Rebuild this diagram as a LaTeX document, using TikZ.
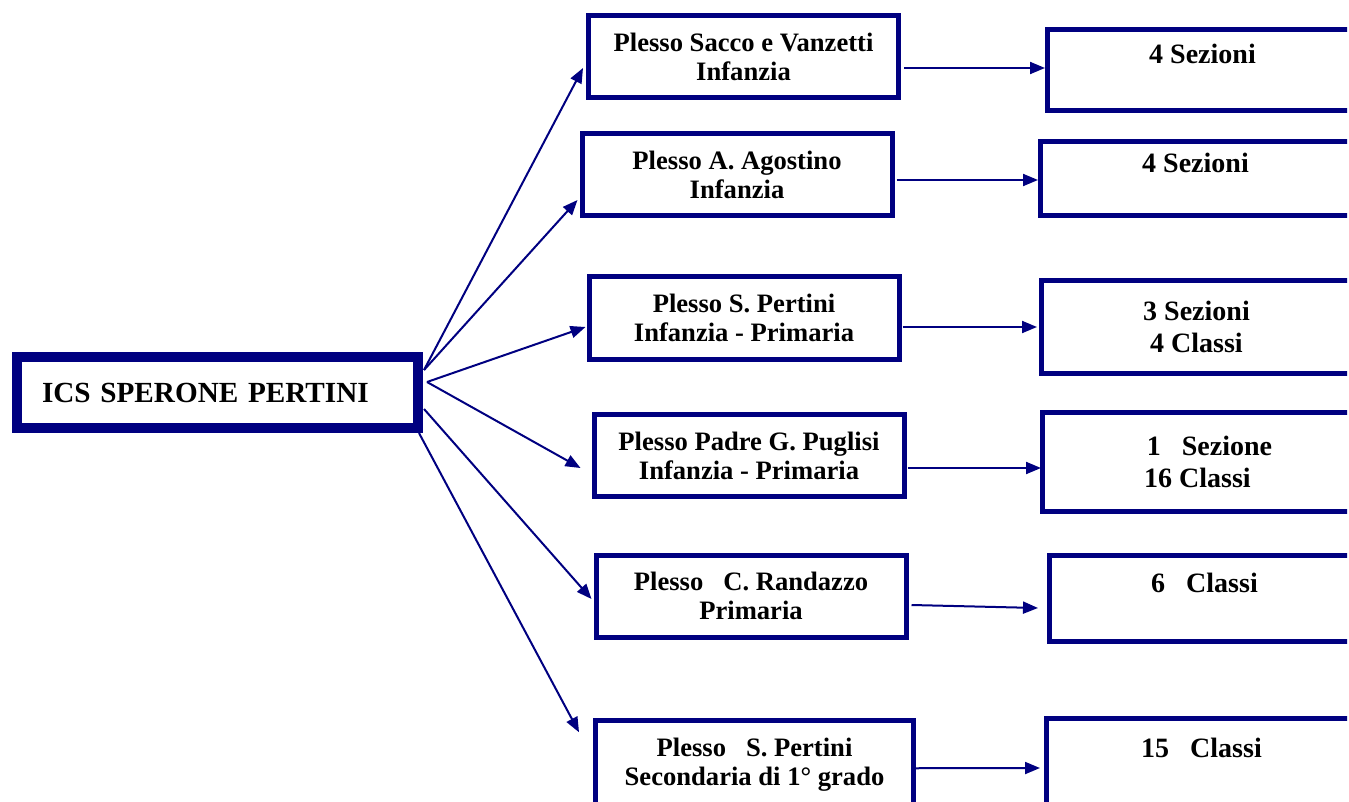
\documentclass[tikz,border=0pt]{standalone}
\usepackage{fontspec}
\setmainfont{Liberation Serif}
\usetikzlibrary{arrows.meta}
\definecolor{navyline}{RGB}{0,0,128}
\newcommand{\rpad}{\hspace*{25pt}}

\begin{document}
\begin{tikzpicture}[x=0.5pt, y=-0.5pt, >={Triangle[length=7.5pt,width=6pt]},
  link/.style = {draw=navyline, line width=1pt},
  icsbox/.style = {draw=navyline, line width=5pt, inner xsep=12.5pt, inner ysep=0pt, text width=175.5pt, align=left, minimum height=35.5pt, font=\fontsize{14.6}{17}\selectfont\bfseries},
  plesso/.style = {draw=navyline, line width=2.5pt, inner sep=0pt, minimum width=155pt, minimum height=41pt, align=center, font=\fontsize{13.3}{14.5}\selectfont\bfseries},
  classi/.style = {draw=navyline, line width=2.5pt, inner sep=0pt, minimum width=180pt, align=center, font=\fontsize{14}{16}\selectfont\bfseries}]
\useasboundingbox (0,0) rectangle (1349,802);
\clip (-10,-10) rectangle (1347,801);
\node[icsbox] (ics) at (217.5,392.5) {ICS SPERONE PERTINI};
\node[plesso] (p1) at (743.5,56.5) {Plesso Sacco e Vanzetti\\Infanzia};
\node[plesso] (p2) at (737,175) {Plesso A. Agostino\\Infanzia};
\node[plesso] (p3) at (744,318) {Plesso S. Pertini\\Infanzia - Primaria};
\node[plesso] (p4) at (749,455.5) {Plesso Padre G. Puglisi\\Infanzia - Primaria};
\node[plesso] (p5) at (751,596) {Plesso~~~C. Randazzo\\Primaria};
\node[plesso, minimum width=159pt, minimum height=43.75pt] (p6) at (754.5,764.25) {Plesso~~~S. Pertini\\Secondaria di 1° grado};
\node[classi, minimum height=40.5pt] (c1) at (1227.5,70) {4 Sezioni\rpad\\~};
\node[classi, minimum height=37pt] (c2) at (1220.5,178.5) {4 Sezioni\rpad\\~};
\node[classi, minimum height=46.5pt] (c3) at (1221.5,327) {3 Sezioni\rpad\\4 Classi\rpad};
\node[classi, minimum height=49.5pt] (c4) at (1222.5,462) {\hspace*{12pt}1~~~Sezione\rpad\\16 Classi\rpad};
\node[classi, minimum height=43pt] (c5) at (1229.5,598.5) {6~~~Classi\rpad\\~};
\node[classi, minimum height=45.5pt] (c6) at (1226.5,763.5) {15~~~Classi\rpad\\~};
% fan out of the main box
\coordinate (fanA) at ([shift={(1,-22.5)}]ics.east);
\coordinate (fanB) at ([shift={(4,-10.5)}]ics.east);
\coordinate (fanC) at ([shift={(1,16.5)}]ics.east);
\coordinate (fanD) at ([shift={(-4,40.5)}]ics.east);
\draw[link, ->] (fanA) -- ([shift={(-3,11.5)}]p1.west);
\draw[link, ->] (fanA) -- ([shift={(-2,25)}]p2.west);
\draw[link, ->] (fanB) -- ([shift={(-1,9)}]p3.west);
\draw[link, ->] (fanB) -- ([shift={(-11,12.5)}]p4.west);
\draw[link, ->] (fanC) -- ([shift={(-2,3)}]p5.west);
\draw[link, ->] (fanD) -- ([shift={(-14,-32)}]p6.west);
% plessi to sections
\draw[link, ->] ([shift={(3,11.5)}]p1.east) -- ([shift={(0,-2)}]c1.west);
\draw[link, ->] ([shift={(2,5)}]p2.east) -- ([shift={(0,1.5)}]c2.west);
\draw[link, ->] ([shift={(1,9)}]p3.east) -- ([shift={(-2,0)}]c3.west);
\draw[link, ->] ([shift={(1,12.5)}]p4.east) -- ([shift={(1,6)}]c4.west);
\draw[link, ->] ([shift={(3,9)}]p5.east) -- ([shift={(-9,9.5)}]c5.west);
\draw[link, ->] ([shift={(0,4)}]p6.east) -- ([shift={(-4,4.5)}]c6.west);
\end{tikzpicture}
\end{document}
